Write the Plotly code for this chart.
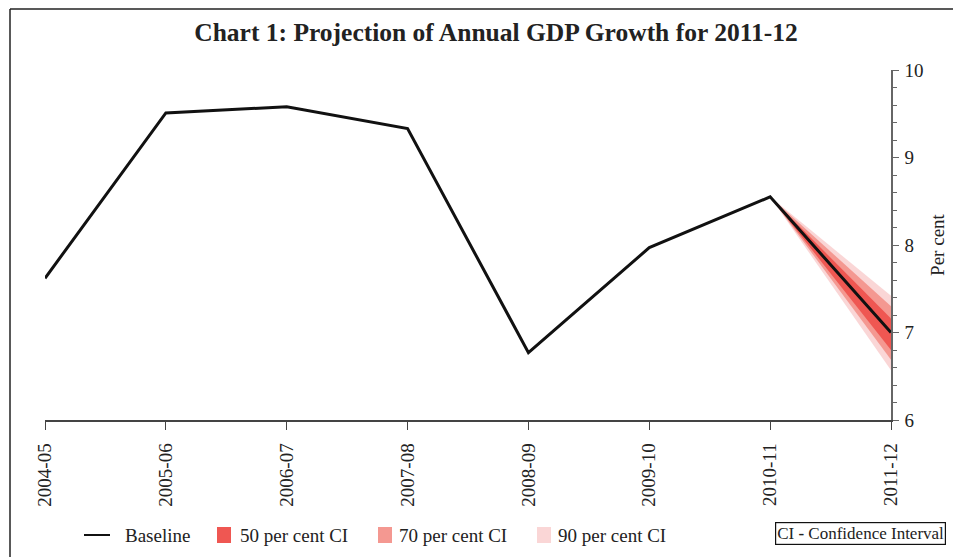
import plotly.graph_objects as go

# ---- data ----
years = ["2004-05", "2005-06", "2006-07", "2007-08", "2008-09", "2009-10", "2010-11", "2011-12"]
gdp = [7.62, 9.51, 9.58, 9.33, 6.77, 7.97, 8.55, 7.00]
ci_levels = ["90 per cent CI", "70 per cent CI", "50 per cent CI"]
ci_lower = [6.57, 6.69, 6.80]
ci_upper = [7.42, 7.30, 7.16]
ci_colors = ["#FAD6D6", "#F49891", "#EF5752"]
y_ticks = [6, 7, 8, 9, 10]

FONT = "Liberation Serif"
OFF = 8                      # page body margin offset
W, H = 961 - OFF, 557 - OFF
# plot area in screen pixels: x 45..891, y 70..420
SX0, SX1, SY0, SY1 = 45, 891, 70, 420
L, T = SX0 - OFF, SY0 - OFF
R, B = W - (SX1 - OFF), H - (SY1 - OFF)
PW, PH = SX1 - SX0, SY1 - SY0

def px(x):
    return (x - SX0) / PW

def py(y):
    return (SY1 - y) / PH

fig = go.Figure()

# fan bands (from last actual to projection)
for lvl, lo, hi, col in zip(ci_levels, ci_lower, ci_upper, ci_colors):
    fig.add_trace(go.Scatter(
        x=[years[-2], years[-1], years[-1], years[-2]],
        y=[gdp[-2], hi, lo, gdp[-2]],
        fill="toself", fillcolor=col, mode="lines",
        line=dict(width=0, color=col), name=lvl, showlegend=False,
        hoverinfo="skip"))

# baseline
fig.add_trace(go.Scatter(
    x=years, y=gdp, mode="lines", name="Baseline",
    line=dict(color="#111111", width=3), showlegend=False))

shapes = []
annotations = []

# outer frame (left and top edges)
shapes.append(dict(type="line", xref="paper", yref="paper",
                   x0=px(10), x1=px(10), y0=py(9), y1=py(600),
                   line=dict(color="#222222", width=1.5)))
shapes.append(dict(type="line", xref="paper", yref="paper",
                   x0=px(10), x1=px(1000), y0=py(9), y1=py(9),
                   line=dict(color="#222222", width=1.5)))

# manual legend
leg_y = 535
shapes.append(dict(type="line", xref="paper", yref="paper",
                   x0=px(84), x1=px(110), y0=py(leg_y), y1=py(leg_y),
                   line=dict(color="#111111", width=2)))
annotations.append(dict(text="Baseline", xref="paper", yref="paper",
                        x=px(123), y=py(leg_y), xanchor="left", yanchor="middle",
                        showarrow=False, font=dict(family=FONT, size=19, color="#222222")))
legend_items = [(217, 238, ci_colors[2], ci_levels[2]),
                (378, 397, ci_colors[1], ci_levels[1]),
                (537, 556, ci_colors[0], ci_levels[0])]
for sx, tx, col, lab in legend_items:
    shapes.append(dict(type="rect", xref="paper", yref="paper",
                       x0=px(sx), x1=px(sx + 14), y0=py(527), y1=py(543),
                       fillcolor=col, line=dict(width=0)))
    annotations.append(dict(text=lab, xref="paper", yref="paper",
                            x=px(tx), y=py(leg_y), xanchor="left", yanchor="middle",
                            showarrow=False, font=dict(family=FONT, size=19, color="#222222")))

# CI note box
annotations.append(dict(text="CI <b>-</b> Confidence Interval", xref="paper", yref="paper",
                        x=px(860), y=py(533), xanchor="center", yanchor="middle",
                        showarrow=False, bordercolor="#111111", borderwidth=1.2, borderpad=1,
                        font=dict(family=FONT, size=17, color="#222222")))

fig.update_layout(
    width=W, height=H,
    margin=dict(l=L, r=R, t=T, b=B, autoexpand=False),
    paper_bgcolor="white", plot_bgcolor="white",
    font=dict(family=FONT, size=19, color="#222222"),
    title=dict(text="<b>Chart 1: Projection of Annual GDP Growth for 2011-12</b>",
               xref="container", yref="container",
               x=(496 - OFF) / W, y=1 - (32 - OFF) / H,
               xanchor="center", yanchor="middle",
               font=dict(family=FONT, size=25.5, color="#222222")),
    shapes=shapes, annotations=annotations,
    showlegend=False,
)

fig.update_xaxes(
    type="category", categoryorder="array", categoryarray=years,
    range=[0, len(years) - 1], automargin=False,
    showline=True, linecolor="#444444", linewidth=1.5,
    ticks="outside", ticklen=8, tickcolor="#444444", tickwidth=1.2,
    tickangle=-90, ticklabelstandoff=6, showgrid=False, zeroline=False,
    tickfont=dict(family=FONT, size=19, color="#222222"),
)
fig.update_yaxes(
    side="right", range=[6, 10], tickvals=y_ticks, automargin=False,
    showline=True, linecolor="#666666", linewidth=1.5,
    ticks="outside", ticklen=6, tickcolor="#666666", tickwidth=1.2,
    minor=dict(dtick=0.2, ticks="outside", ticklen=4, tickcolor="#666666", tickwidth=1),
    showgrid=False, zeroline=False, ticklabelstandoff=2,
    title=dict(text="Per cent", standoff=8, font=dict(family=FONT, size=19, color="#222222")),
    tickfont=dict(family=FONT, size=19, color="#222222"),
)

fig.write_html("out.html")
